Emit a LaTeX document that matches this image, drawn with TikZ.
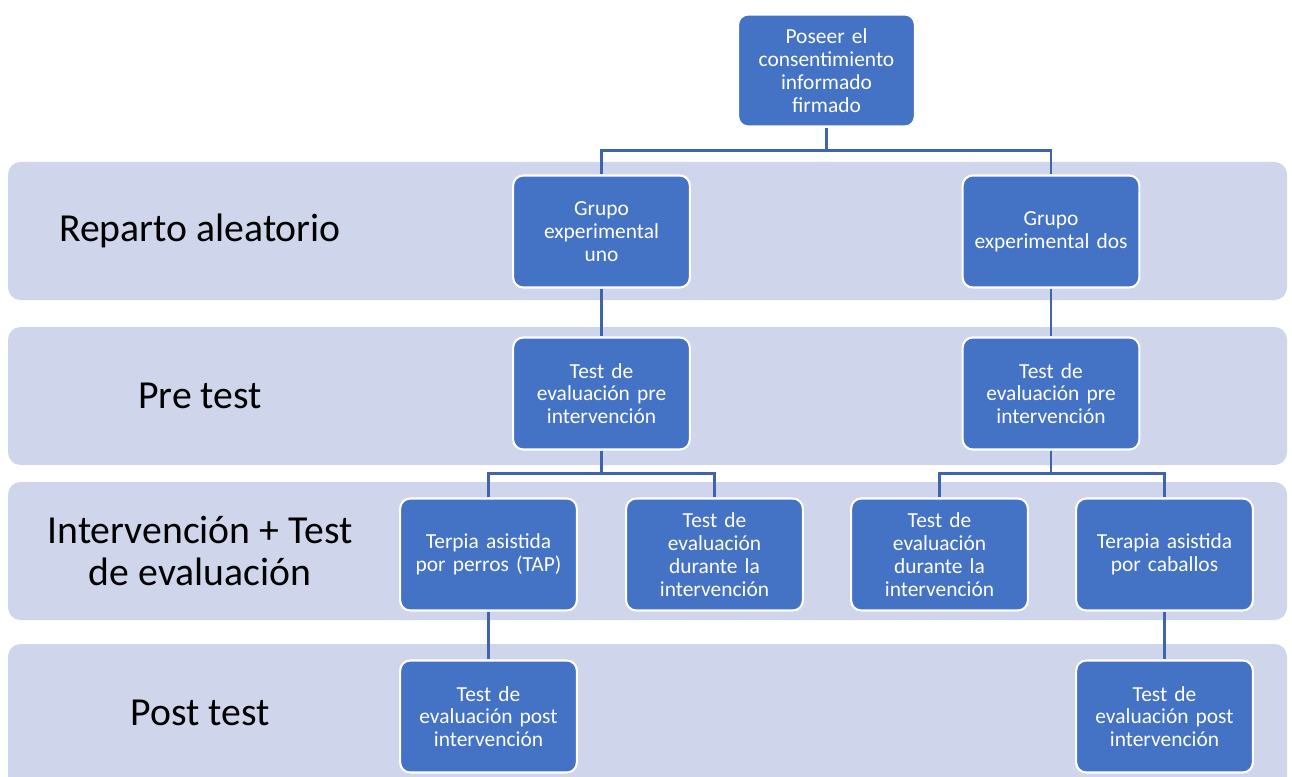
\documentclass[tikz,border=0pt]{standalone}
\usepackage{fontspec}
\setmainfont{Carlito}
\usetikzlibrary{positioning}
\definecolor{boxblue}{HTML}{4472C4}
\definecolor{bandgray}{HTML}{CFD5EA}
\definecolor{linkblue}{HTML}{3F63AC}

\begin{document}
\begin{tikzpicture}[x=0.02cm, y=-0.02cm,
  box/.style={draw=white, line width=1.2pt, fill=boxblue, rounded corners=0.2cm,
    minimum width=3.38cm, minimum height=2.24cm, text width=3.3cm, align=center,
    text=white, font=\fontsize{12.2}{13}\selectfont},
  band/.style={fill=bandgray, rounded corners=0.25cm},
  lbl/.style={align=center, font=\fontsize{22.6}{24}\selectfont},
  link/.style={draw=linkblue, line width=1.2pt}]
\useasboundingbox (0,0) rectangle (1292,777);
\clip (0,0) rectangle (1292,777);

% stage bands
\fill[band] (8,162) rectangle (1287,300);
\fill[band] (8,327) rectangle (1287,465);
\fill[band] (8,482) rectangle (1287,620);
\fill[band] (8,644) rectangle (1287,800);

\node[lbl] (reparto) at (200,231) {Reparto aleatorio};
\node[lbl] (pre) at (200,396) {Pre test};
\node[lbl] (interv) at (200,551) {Intervención + Test\\de evaluación};
\node[lbl] (post) at (200,713) {Post test};

% boxes
\node[box] (consent) at (826.5,70.5) {Poseer el\\consentimiento\\informado\\firmado};
\node[box] (grupoA) at (601.5,231.5) {Grupo\\experimental\\uno};
\node[box] (grupoB) at (1051,231.5) {Grupo\\experimental dos};
\node[box] (preA) at (601.5,393.5) {Test de\\evaluación pre\\intervención};
\node[box] (preB) at (1051,393.5) {Test de\\evaluación pre\\intervención};
\node[box] (tap) at (488.5,554.5) {Terpia asistida\\por perros (TAP)};
\node[box] (durA) at (714.5,554.5) {Test de\\evaluación\\durante la\\intervención};
\node[box] (durB) at (939.5,554.5) {Test de\\evaluación\\durante la\\intervención};
\node[box] (caballos) at (1164.5,554.5) {Terapia asistida\\por caballos};
\node[box] (postA) at (488.5,716.5) {Test de\\evaluación post\\intervención};
\node[box] (postB) at (1164.5,716.5) {Test de\\evaluación post\\intervención};

% connectors
\draw[link] (consent.south) -- ++(0,23) -| (grupoA.north);
\draw[link] (consent.south) -- ++(0,23) -| (grupoB.north);
\draw[link] (grupoA) -- (preA);
\draw[link] (grupoB) -- (preB);
\draw[link] (preA.south) -- ++(0,23) -| (tap.north);
\draw[link] (preA.south) -- ++(0,23) -| (durA.north);
\draw[link] (preB.south) -- ++(0,23) -| (durB.north);
\draw[link] (preB.south) -- ++(0,23) -| (caballos.north);
\draw[link] (tap) -- (postA);
\draw[link] (caballos) -- (postB);
\end{tikzpicture}
\end{document}
